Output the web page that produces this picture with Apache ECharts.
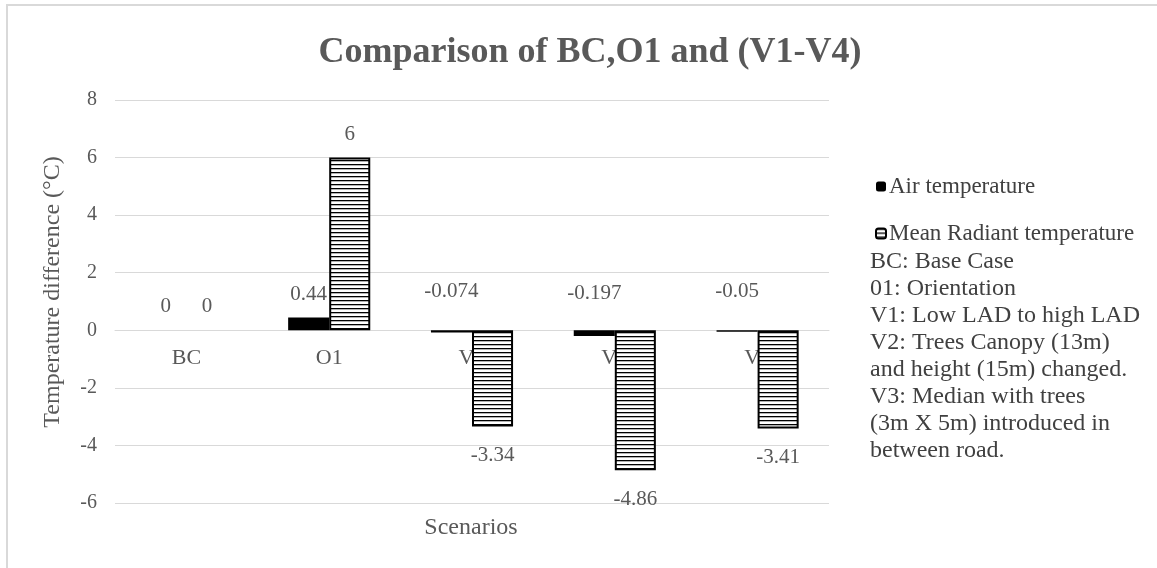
<!DOCTYPE html>
<html>
<head>
<meta charset="utf-8">
<script src="https://cdn.jsdelivr.net/npm/echarts@6/dist/echarts.min.js"></script>
<style>html,body{margin:0;padding:0;background:#fff;}#c{width:1157px;height:568px;}</style>
</head>
<body>
<div id="c"></div>
<script>
const categories = ['BC', 'O1', 'V1', 'V2', 'V3'];
const airTemp = [0, 0.44, -0.074, -0.197, -0.05];
const mrtTemp = [0, 6, -3.34, -4.86, -3.41];
const seriesNames = ['Air temperature', 'Mean Radiant temperature'];
const yTicks = { min: -6, max: 8, interval: 2 };
const titleText = 'Comparison of BC,O1 and (V1-V4)';
const yAxisName = 'Temperature difference (°C)';
const xAxisName = 'Scenarios';
const notes = [
  'BC: Base Case',
  '01: Orientation',
  'V1: Low LAD to high LAD',
  'V2: Trees Canopy (13m)',
  'and height (15m) changed.',
  'V3: Median with trees',
  '(3m X 5m) introduced in',
  'between road.'
];

const FONT = '"Liberation Serif", "Times New Roman", serif';

// stripe pattern
const pc = document.createElement('canvas');
pc.width = 4; pc.height = 4;
const pctx = pc.getContext('2d');
pctx.fillStyle = '#fff'; pctx.fillRect(0, 0, 4, 4);
pctx.fillStyle = '#000'; pctx.fillRect(0, 0, 4, 1.3);
const stripe = { image: pc, repeat: 'repeat' };

const chart = echarts.init(document.getElementById('c'));

const airData = airTemp.map(v => v < 0
  ? { value: v, label: { position: 'inside', offset: [0, -40] } }
  : { value: v });
const mrtData = mrtTemp.map(v => v < 0
  ? { value: v, label: { position: 'bottom', distance: 19 } }
  : (v === 0 ? { value: v, itemStyle: { borderWidth: 0 } } : { value: v }));

chart.setOption({
  animation: false,
  backgroundColor: '#fff',
  title: {
    text: titleText, left: 585, textAlign: 'center', top: 30,
    textStyle: { fontFamily: FONT, fontSize: 36, fontWeight: 'bold', color: '#595959' }
  },
  legend: {
    orient: 'vertical', left: 870, top: 170, itemGap: 24,
    itemWidth: 10, itemHeight: 10,
    data: seriesNames,
    textStyle: { fontFamily: FONT, fontSize: 23, color: '#404040', padding: [0, 0, 0, -2] }
  },
  grid: { left: 115, right: 328, top: 100, bottom: 65, containLabel: false },
  xAxis: {
    type: 'category', data: categories,
    position: 'bottom', offset: -173,
    axisLine: { onZero: false, lineStyle: { color: '#d9d9d9', width: 1 } },
    axisTick: { show: false },
    axisLabel: { fontFamily: FONT, fontSize: 22, color: '#595959', margin: 17 }
  },
  yAxis: {
    type: 'value', min: yTicks.min, max: yTicks.max, interval: yTicks.interval,
    axisLine: { show: false }, axisTick: { show: false },
    splitLine: { lineStyle: { color: '#d9d9d9', width: 1 } },
    axisLabel: { fontFamily: FONT, fontSize: 20, color: '#595959', margin: 18 }
  },
  series: [
    {
      name: seriesNames[0], type: 'bar', data: airData,
      barGap: '0%', barCategoryGap: '42.5%',
      itemStyle: { color: '#000' },
      label: { show: true, position: 'top', distance: 13, fontFamily: FONT, fontSize: 21, color: '#595959' }
    },
    {
      name: seriesNames[1], type: 'bar', data: mrtData,
      barGap: '0%', barCategoryGap: '42.5%',
      itemStyle: { color: stripe, borderColor: '#000', borderWidth: 2 },
      label: { show: true, position: 'top', distance: 13, fontFamily: FONT, fontSize: 21, color: '#595959' }
    }
  ],
  graphic: [
    {
      type: 'polyline', silent: true, z: -1,
      shape: { points: [[7, 568], [7, 5], [1157, 5]] },
      style: { fill: 'none', stroke: '#d9d9d9', lineWidth: 2 }
    },
    {
      type: 'text', x: 53, y: 292, rotation: Math.PI / 2,
      style: { text: yAxisName, fontFamily: FONT, fontSize: 24, fill: '#595959', align: 'center', verticalAlign: 'middle' }
    },
    {
      type: 'text', x: 471, y: 528,
      style: { text: xAxisName, fontFamily: FONT, fontSize: 24, fill: '#595959', align: 'center', verticalAlign: 'middle' }
    },
    {
      type: 'text', x: 870, y: 248,
      style: { text: notes.join('\n'), fontFamily: FONT, fontSize: 24, lineHeight: 27, fill: '#404040', align: 'left', verticalAlign: 'top' }
    }
  ]
});
</script>
</body>
</html>
